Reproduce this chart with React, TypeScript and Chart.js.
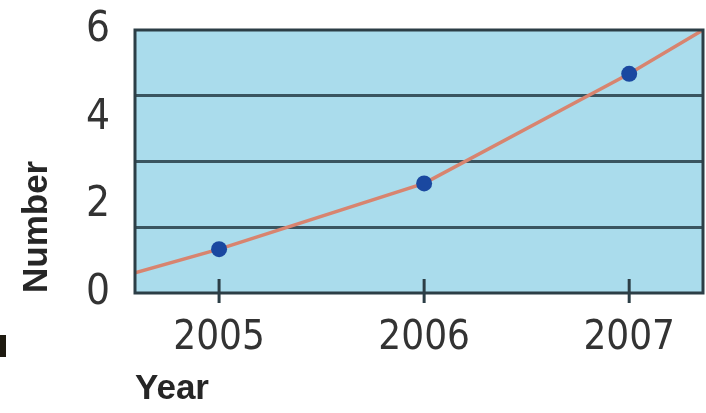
import React, { useEffect, useRef } from "react";
import { Chart, registerables } from "chart.js";

Chart.register(...registerables);

// ---- data ----
const years = [2005, 2006, 2007];
const numbers = [1, 2.5, 5];
// trend line: runs through the points and continues to the frame edges
const lineYears = [2004.59, 2005, 2006, 2007, 2007.36];
const lineNumbers = [0.46, 1, 2.5, 5, 6];
const yLabelValues = [0, 2, 4, 6];
const yGridValues = [1.5, 3, 4.5];
const xMin = 2004.59;
const xMax = 2007.36;
const yMin = 0;
const yMax = 6;

const FONT_FAMILY = "'DejaVu Sans Condensed', 'Liberation Sans', Arial, sans-serif";
const TITLE_FAMILY = "'Liberation Sans', Arial, sans-serif";

const framePlugin = {
  id: "framePlugin",
  beforeDraw(chart: any) {
    const { ctx, chartArea } = chart;
    ctx.save();
    ctx.fillStyle = "#aadcec";
    ctx.fillRect(chartArea.left, chartArea.top, chartArea.right - chartArea.left, chartArea.bottom - chartArea.top);
    // small dark scan artifact at left edge
    ctx.fillStyle = "#1e1a10";
    ctx.fillRect(0, 335, 6, 22);
    ctx.restore();
  },
  afterDraw(chart: any) {
    const { ctx, chartArea } = chart;
    const xScale = chart.scales.x;
    ctx.save();
    ctx.strokeStyle = "#2c3e46";
    ctx.lineWidth = 3;
    ctx.strokeRect(chartArea.left, chartArea.top, chartArea.right - chartArea.left, chartArea.bottom - chartArea.top);
    for (const yr of years) {
      const px = xScale.getPixelForValue(yr);
      ctx.beginPath();
      ctx.moveTo(px, chartArea.bottom - 14);
      ctx.lineTo(px, chartArea.bottom + 10);
      ctx.stroke();
    }
    ctx.restore();
  },
};

export default function App() {
  const canvasRef = useRef<HTMLCanvasElement | null>(null);

  useEffect(() => {
    if (!canvasRef.current) return;
    const chart = new Chart(canvasRef.current, {
      type: "scatter",
      data: {
        datasets: [
          {
            label: "Number",
            data: years.map((y, i) => ({ x: y, y: numbers[i] })),
            showLine: false,
            pointRadius: 8,
            pointBackgroundColor: "#1a48a0",
            pointBorderWidth: 0,
            pointBorderColor: "#1a48a0",
          },
          {
            label: "Trend",
            data: lineYears.map((y, i) => ({ x: y, y: lineNumbers[i] })),
            showLine: true,
            pointRadius: 0,
            borderColor: "#d8846f",
            borderWidth: 3.5,
            tension: 0,
          },
        ],
      },
      options: {
        responsive: false,
        animation: false,
        layout: { autoPadding: false, padding: { top: 30, right: 3, left: 0, bottom: 0 } },
        plugins: {
          legend: { display: false },
          tooltip: { enabled: false },
        },
        scales: {
          x: {
            type: "linear",
            min: xMin,
            max: xMax,
            afterBuildTicks: (scale: any) => {
              scale.ticks = years.map((v) => ({ value: v }));
            },
            afterFit: (scale: any) => {
              scale.height = 120;
              scale.paddingLeft = 0;
              scale.paddingRight = 0;
            },
            grid: { display: false, drawTicks: false },
            border: { display: false },
            ticks: {
              padding: 22,
              color: "#333333",
              font: { family: FONT_FAMILY, size: 40 },
              callback: (v: any) => String(v),
              maxRotation: 0,
              autoSkip: false,
            },
            title: {
              display: true,
              text: "Year",
              align: "start",
              color: "#262626",
              font: { family: TITLE_FAMILY, size: 35, weight: "bold" },
              padding: { top: 0, bottom: 3 },
            },
          },
          y: {
            type: "linear",
            min: yMin,
            max: yMax,
            afterBuildTicks: (scale: any) => {
              const vals = [...yLabelValues, ...yGridValues].sort((a, b) => a - b);
              scale.ticks = vals.map((v) => ({ value: v }));
            },
            afterFit: (scale: any) => {
              scale.width = 135;
              scale.paddingTop = 0;
              scale.paddingBottom = 0;
            },
            grid: {
              drawTicks: false,
              lineWidth: 3,
              color: (ctx: any) =>
                ctx.tick && yGridValues.includes(ctx.tick.value) ? "#3a5560" : "rgba(0,0,0,0)",
            },
            border: { display: false },
            ticks: {
              padding: 25,
              color: "#333333",
              font: { family: FONT_FAMILY, size: 42 },
              autoSkip: false,
              callback: (v: any) => (yLabelValues.includes(Number(v)) ? String(v) : ""),
            },
            title: {
              display: true,
              text: "Number",
              align: "start",
              color: "#262626",
              font: { family: TITLE_FAMILY, size: 35, weight: "bold" },
              padding: { top: 16, bottom: 0 },
            },
          },
        },
      },
      plugins: [framePlugin],
    } as any);
    return () => chart.destroy();
  }, []);

  return (
    <div style={{ position: "absolute", left: 0, top: 0, width: 706, height: 413, background: "#ffffff" }}>
      <canvas ref={canvasRef} width={706} height={413} style={{ display: "block" }} />
    </div>
  );
}
